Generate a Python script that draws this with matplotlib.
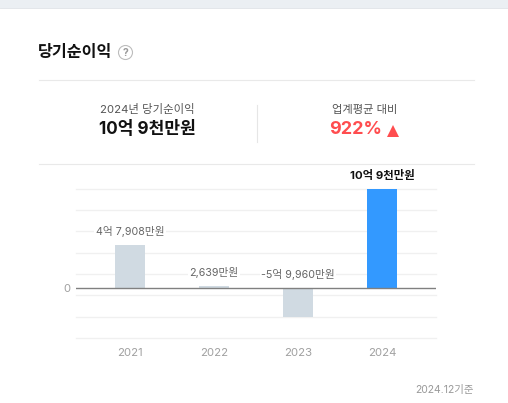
import matplotlib
matplotlib.use('Agg')
import matplotlib.pyplot as plt
from matplotlib.patches import Circle, Rectangle

plt.rcParams['font.family'] = ['Inter', 'Noto Sans CJK KR', 'DejaVu Sans']

# %% Data, in 억원 as drawn (the 2023 bar is clipped shorter than its label says).
years = ['2021', '2022', '2023', '2024']
bar_heights = [4.72, 0.26, -3.18, 10.9]
bar_labels = ['4억 7,908만원', '2,639만원', '-5억 9,960만원', '10억 9천만원']
bar_colors = ['#d0dae2', '#d0dae2', '#d0dae2', '#3399ff']
grid_values = [10.9, 8.55, 6.2, 3.83, 1.5, -0.77, -3.18, -5.53]

W, H = 508, 403
fig = plt.figure(figsize=(W / 100, H / 100), dpi=100)

# %% Page layer, in pixels.
bg = fig.add_axes([0, 0, 1, 1])
bg.set_xlim(0, W)
bg.set_ylim(H, 0)
bg.axis('off')

bg.add_patch(Rectangle((0, 0), W, 8, color='#ebeff3', lw=0))
bg.plot([0, W], [8.2, 8.2], color='#e3e6ea', lw=0.7)
bg.plot([39, 474], [80, 80], color='#e9e9e9', lw=0.8)
bg.plot([39, 474], [164, 164], color='#e9e9e9', lw=0.8)
bg.plot([256.5, 256.5], [105, 142], color='#e6e6e6', lw=0.8)

bg.text(38, 52.7, '당기순이익', fontsize=11.6, fontweight='bold', color='#111111', va='center')
bg.add_patch(Circle((125.5, 52.5), 7, fc='white', ec='#bdbdbd', lw=0.8))
bg.text(125.5, 52.5, '?', fontsize=7.5, fontweight='bold', color='#9a9a9a', ha='center', va='center')

bg.text(147, 110, '2024년 당기순이익', fontsize=8.2, color='#555555', ha='center', va='center')
bg.text(147, 129, '10억 9천만원', fontsize=12.3, fontweight='bold', color='#111111', ha='center', va='center')
bg.text(364.5, 110, '업계평균 대비', fontsize=8.1, color='#555555', ha='center', va='center')
bg.text(356, 129, '922%', fontsize=13, fontweight='bold', color='#ff4d4f', ha='center', va='center')
bg.plot([393], [131], marker='^', ms=8.5, color='#ff4d4f', mew=0)

bg.text(474, 390.5, '2024.12기준', fontsize=7.5, color='#999999', ha='right', va='center')

# %% Chart.
px_per_unit = 99.5 / 10.9
zero_y, top, bottom, left, right = 288, 188.5, 338.5, 76, 436
ax = fig.add_axes([left / W, 1 - bottom / H, (right - left) / W, (bottom - top) / H])
ax.patch.set_alpha(0)
ax.set_xlim(-54 / 84, 3 + 54 / 84)
ax.set_ylim((zero_y - bottom) / px_per_unit, (zero_y - top) / px_per_unit)

for v in grid_values:
    ax.axhline(v, color='#f0f0f0', lw=1, zorder=1, clip_on=False)
ax.bar(range(4), bar_heights, width=30 / 84, color=bar_colors, zorder=2)
ax.axhline(0, color='#808080', lw=1, zorder=3)

label_y = [231.5, 272.5, 275, 176]
for i, lab in enumerate(bar_labels):
    bold = i == 3
    ax.annotate(lab, xy=(130 + 84 * i, H - label_y[i]), xycoords='figure pixels',
                fontsize=8.2 if bold else 7.7,
                fontweight='bold' if bold else 'normal', color='#111111' if bold else '#666666',
                ha='center', va='center', zorder=5,
                bbox=dict(fc='white', ec='none', pad=1), annotation_clip=False)

for s in ax.spines.values():
    s.set_visible(False)
ax.set_xticks(range(4), years)
ax.set_yticks([0], ['0'])
ax.tick_params(length=0, colors='#a0a0a0', labelsize=8.2)
ax.tick_params(axis='x', pad=6.5)
ax.tick_params(axis='y', pad=4)

fig.savefig('out.png', dpi=100)
